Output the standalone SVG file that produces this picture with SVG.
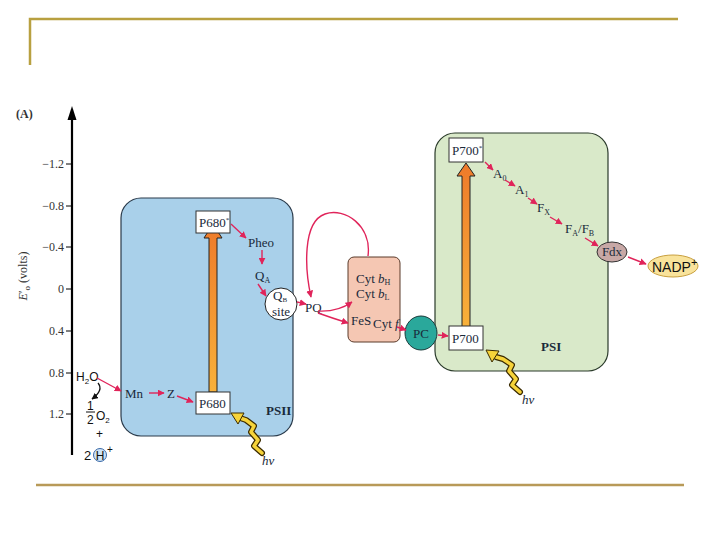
<svg xmlns="http://www.w3.org/2000/svg" width="720" height="540" viewBox="0 0 720 540">
<defs>
<marker id="ra" viewBox="0 0 10 10" refX="9" refY="5" markerWidth="5" markerHeight="5" orient="auto"><path d="M0,0 L10,5 L0,10 z" fill="#e0245a"/></marker>
<marker id="ka" viewBox="0 0 10 10" refX="9" refY="5" markerWidth="5" markerHeight="5" orient="auto"><path d="M0,0 L10,5 L0,10 z" fill="#111"/></marker>
<linearGradient id="og" x1="0" y1="1" x2="0" y2="0"><stop offset="0" stop-color="#f8b13a"/><stop offset="1" stop-color="#ee7a2a"/></linearGradient>
</defs>
<style>
.s{font-family:"Liberation Serif","DejaVu Serif",serif;font-size:13px;fill:#1a2a3a}
.t{font-family:"Liberation Serif",serif;font-size:12px;fill:#333}
.ss{font-family:"Liberation Sans",Arial,sans-serif;fill:#111}
.b{font-family:"Liberation Serif",serif;font-size:13px;font-weight:bold;fill:#1a2a3a}
.r{stroke:#e0245a;stroke-width:1.4;fill:none;marker-end:url(#ra)}
.box{fill:#fff;stroke:#333;stroke-width:1}
.frame{stroke:#b8a040;stroke-width:2.5;fill:none}
</style>
<rect width="720" height="540" fill="#fff"/>
<path class="frame" d="M30,65 V19 H678"/>
<line x1="36" y1="485" x2="684" y2="485" stroke="#b89a58" stroke-width="2.5"/>

<g id="axis">
<line x1="72" y1="118" x2="72" y2="455" stroke="#000" stroke-width="2.2"/>
<path d="M67.5,120 L72,106 L76.5,120 z" fill="#000"/>
<g stroke="#000" stroke-width="1">
<line x1="66" y1="164" x2="72" y2="164"/><line x1="66" y1="206" x2="72" y2="206"/><line x1="66" y1="247" x2="72" y2="247"/><line x1="66" y1="289" x2="72" y2="289"/><line x1="66" y1="331" x2="72" y2="331"/><line x1="66" y1="373" x2="72" y2="373"/><line x1="66" y1="414" x2="72" y2="414"/>
</g>
<g class="t" text-anchor="end">
<text x="64" y="168">−1.2</text><text x="64" y="210">−0.8</text><text x="64" y="251">−0.4</text><text x="64" y="293">0</text><text x="64" y="335">0.4</text><text x="64" y="377">0.8</text><text x="64" y="418">1.2</text>
</g>
<text x="16" y="118" class="t" font-size="13" font-weight="bold">(A)</text>
<text transform="translate(27,276) rotate(-90)" class="t" font-size="13" text-anchor="middle"><tspan font-style="italic">E</tspan>′<tspan font-size="9" dy="3">o</tspan><tspan dy="-3"> (volts)</tspan></text>
</g>

<g id="psii">
<rect x="121" y="198" width="172" height="238" rx="20" fill="#a9d0ea" stroke="#2a3a4a" stroke-width="1.2"/>
<text x="266" y="415" class="b">PSII</text>
</g>
<g id="psi">
<rect x="435" y="133" width="173" height="238" rx="20" fill="#d9e9c9" stroke="#2a3a2a" stroke-width="1.2"/>
<text x="541" y="351" class="b">PSI</text>
</g>

<g id="excitation-arrows">
<path d="M209,392 V238 H204 L213,224 L222,238 H217 V392 z" fill="url(#og)" stroke="#222" stroke-width="1"/>
<path d="M462,327 V176 H457 L466,163 L475,176 H470 V327 z" fill="url(#og)" stroke="#222" stroke-width="1"/>
</g>

<g id="p680star"><rect x="196" y="211" width="34" height="22" class="box"/><text x="199" y="227" class="s" font-size="11">P680<tspan font-size="7" dy="-5">*</tspan></text></g>
<g id="p680"><rect x="196" y="392" width="34" height="22" class="box"/><text x="199" y="408" class="s" font-size="11">P680</text></g>
<g id="p700star"><rect x="449" y="138" width="34" height="24" class="box"/><text x="452" y="155" class="s" font-size="11">P700<tspan font-size="7" dy="-5">*</tspan></text></g>
<g id="p700"><rect x="449" y="326" width="34" height="24" class="box"/><text x="452" y="343" class="s" font-size="11">P700</text></g>

<g id="pheo"><text x="248" y="247" class="s">Pheo</text></g>
<g id="qa"><text x="255" y="280" class="s">Q<tspan font-size="8" dy="3">A</tspan></text></g>
<g id="qb"><circle cx="281" cy="304" r="16" fill="#fff" stroke="#222" stroke-width="1"/><text x="273" y="300" class="s" font-size="11">Q<tspan font-size="7" dy="2">B</tspan></text><text x="281" y="316" class="s" font-size="10.5" text-anchor="middle">site</text></g>
<g id="pq"><text x="305" y="312" class="s">PQ</text></g>
<g id="cyt"><rect x="348" y="257" width="52" height="85" rx="6" fill="#f5c7b3" stroke="#5a3a2a" stroke-width="1"/>
<text x="356" y="283" class="s" font-size="8.5">Cyt <tspan font-style="italic">b</tspan><tspan dy="2" font-size="8">H</tspan></text>
<text x="356" y="298" class="s" font-size="8.5">Cyt <tspan font-style="italic">b</tspan><tspan dy="2" font-size="8">L</tspan></text>
<text x="351" y="325" class="s" font-size="8.5">FeS</text>
<text x="373" y="328" class="s" font-size="8.5">Cyt <tspan font-style="italic">f</tspan></text></g>
<g id="pc"><ellipse cx="421" cy="333" rx="16" ry="17" fill="#2aa89b" stroke="#1a3a3a" stroke-width="1"/><text x="421" y="338" class="s" text-anchor="middle">PC</text></g>
<g id="a0"><text x="493" y="178" class="s">A<tspan font-size="8" dy="3">0</tspan></text></g>
<g id="a1"><text x="515" y="194" class="s">A<tspan font-size="8" dy="3">1</tspan></text></g>
<g id="fx"><text x="537" y="212" class="s">F<tspan font-size="8" dy="3">X</tspan></text></g>
<g id="fafb"><text x="565" y="233" class="s">F<tspan font-size="8" dy="3">A</tspan><tspan dy="-3">/F</tspan><tspan font-size="8" dy="3">B</tspan></text></g>
<g id="fdx"><ellipse cx="612" cy="252" rx="15" ry="10" fill="#c8a8a6" stroke="#333" stroke-width="1"/><text x="612" y="256" class="s" font-size="11" text-anchor="middle">Fdx</text></g>
<g id="nadp"><ellipse cx="673" cy="266" rx="25" ry="11" fill="#f9e39b" stroke="#c8a040" stroke-width="1"/><text x="652" y="272" class="ss" font-size="14">NADP<tspan font-size="11" dy="-6">+</tspan></text></g>
<g id="mn"><text x="125" y="398" class="s">Mn</text></g>
<g id="z"><text x="167" y="398" class="s">Z</text></g>
<g id="water"><text x="76" y="381" class="ss" font-size="12">H<tspan font-size="8" dy="3">2</tspan><tspan dy="-3">O</tspan></text>
<text x="87" y="410" class="ss" font-size="12">1</text><line x1="86" y1="412" x2="95" y2="412" stroke="#111" stroke-width="1"/><text x="87" y="424" class="ss" font-size="12">2</text>
<text x="96" y="420" class="ss" font-size="12">O<tspan font-size="8" dy="3">2</tspan></text>
<text x="96" y="438" class="ss" font-size="12">+</text>
<text x="84" y="460" class="ss" font-size="13">2</text><circle cx="100" cy="455" r="6.5" fill="#cfe3f5" stroke="#3a6aa8" stroke-width="1"/><text x="100" y="460" class="ss" font-size="12" text-anchor="middle" fill="#3a6aa8">H</text><text x="107" y="453" class="ss" font-size="10" fill="#3a6aa8">+</text></g>

<g id="connectors">
<path class="r" d="M231,224 L246,238"/>
<path class="r" d="M262,250 L262,264"/>
<path class="r" d="M258,284 L266,296"/>
<path class="r" d="M297,302 L306,304"/>
<path class="r" d="M318,313 Q332,318 348,323"/>
<path class="r" d="M318,311 Q338,312 352,302"/>
<path class="r" d="M368,256 C372,226 345,207 325,214 C302,222 305,270 311,297"/>
<path class="r" d="M397,327 L406,330"/>
<path class="r" d="M438,335 L448,336"/>
<path class="r" d="M485,162 L493,170"/>
<path class="r" d="M505,180 L515,186"/>
<path class="r" d="M528,198 L537,204"/>
<path class="r" d="M550,217 L562,224"/>
<path class="r" d="M585,238 L598,246"/>
<path class="r" d="M628,257 L646,264"/>
<path class="r" d="M97,378 L121,391"/>
<path class="r" d="M149,393 L164,393"/>
<path class="r" d="M177,396 L193,402"/>
<path d="M98,383 Q104,390 92,399" stroke="#111" stroke-width="1.3" fill="none" marker-end="url(#ka)"/>
</g>

<g id="light">
<path d="M262,453 L254,446 L258,440 L251,432 L254,426 L246,420 L240,418" stroke="#3a2a00" stroke-width="6" fill="none" stroke-linecap="round" stroke-linejoin="round"/>
<path d="M262,453 L254,446 L258,440 L251,432 L254,426 L246,420 L240,418" stroke="#f6d33a" stroke-width="3.5" fill="none" stroke-linecap="round" stroke-linejoin="round"/>
<path d="M231,413 L244,413 L238,424 z" fill="#f6d33a" stroke="#3a2a00" stroke-width="1"/>
<text x="262" y="465" class="s" font-style="italic" font-size="11">hν</text>
<path d="M520,392 L512,385 L516,379 L509,371 L512,365 L503,359 L496,357" stroke="#3a2a00" stroke-width="6" fill="none" stroke-linecap="round" stroke-linejoin="round"/>
<path d="M520,392 L512,385 L516,379 L509,371 L512,365 L503,359 L496,357" stroke="#f6d33a" stroke-width="3.5" fill="none" stroke-linecap="round" stroke-linejoin="round"/>
<path d="M486,350 L499,351 L492,362 z" fill="#f6d33a" stroke="#3a2a00" stroke-width="1"/>
<text x="522" y="404" class="s" font-style="italic" font-size="11">hν</text>
</g>
</svg>
